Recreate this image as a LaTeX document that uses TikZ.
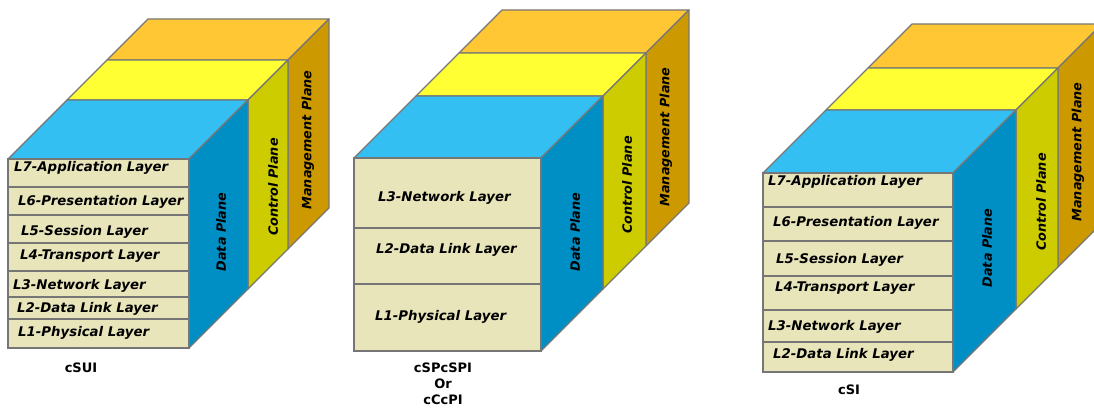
\documentclass[tikz,border=0pt]{standalone}
\usepackage{fontspec}
\setmainfont{DejaVu Sans}
\definecolor{mgtop}{HTML}{FFC733}
\definecolor{mgside}{HTML}{CC9900}
\definecolor{cttop}{HTML}{FFFF33}
\definecolor{ctside}{HTML}{CCCC00}
\definecolor{dttop}{HTML}{33BFF2}
\definecolor{dtside}{HTML}{008FC4}
\definecolor{beige}{HTML}{E8E5BB}
\definecolor{edge}{HTML}{767676}
\tikzset{
  face/.style={draw=edge, line width=1.2pt, line join=round},
  frontface/.style={draw=edge, line width=2pt, fill=beige},
  sep/.style={draw=edge, line width=1.6pt},
  layer/.style={anchor=west, inner sep=0pt, font=\fontsize{13.3}{15}\selectfont\bfseries\itshape},
  plane/.style={rotate=90, inner sep=0pt, font=\fontsize{12.8}{14}\selectfont\bfseries\itshape},
  caption/.style={inner sep=0pt, align=center, font=\fontsize{13}{16}\selectfont\bfseries}
}
% #1 X, #2 Y, #3 W, #4 H, #5 d1, #6 d2, #7 d3
\newcommand\drawcube[7]{%
  \path[face, fill=mgtop] (#1+#6,#2-#6) -- (#1+#3+#6,#2-#6) -- (#1+#3+#7,#2-#7) -- (#1+#7,#2-#7) -- cycle;
  \path[face, fill=mgside] (#1+#3+#6,#2-#6) -- (#1+#3+#7,#2-#7) -- (#1+#3+#7,#2+#4-#7) -- (#1+#3+#6,#2+#4-#6) -- cycle;
  \path[face, fill=cttop] (#1+#5,#2-#5) -- (#1+#3+#5,#2-#5) -- (#1+#3+#6,#2-#6) -- (#1+#6,#2-#6) -- cycle;
  \path[face, fill=ctside] (#1+#3+#5,#2-#5) -- (#1+#3+#6,#2-#6) -- (#1+#3+#6,#2+#4-#6) -- (#1+#3+#5,#2+#4-#5) -- cycle;
  \path[face, fill=dttop] (#1,#2) -- (#1+#3,#2) -- (#1+#3+#5,#2-#5) -- (#1+#5,#2-#5) -- cycle;
  \path[face, fill=dtside] (#1+#3,#2) -- (#1+#3+#5,#2-#5) -- (#1+#3+#5,#2+#4-#5) -- (#1+#3,#2+#4) -- cycle;
  \path[frontface] (#1,#2) rectangle (#1+#3,#2+#4);
}
\begin{document}
\begin{tikzpicture}[x=1pt,y=-1pt]
\useasboundingbox (0,0) rectangle (1094,409);
\clip (0,0) rectangle (1094,409);

% ---------- cube 1 : cSUI ----------
\drawcube{8}{159}{181}{189}{59}{99}{140}
\foreach \yy in {187,215,243,271,297,319} {\draw[sep] (8,\yy) -- (189,\yy);}
\node[layer] (a7) at (14,168) {L7-Application Layer};
\node[layer] (a6) at (18,202) {L6-Presentation Layer};
\node[layer] (a5) at (21,232) {L5-Session Layer};
\node[layer] (a4) at (20,256) {L4-Transport Layer};
\node[layer] (a3) at (13,286) {L3-Network Layer};
\node[layer] (a2) at (17,309) {L2-Data Link Layer};
\node[layer] (a1) at (18,333) {L1-Physical Layer};
\node[plane] (adp) at (221,232) {Data Plane};
\node[plane] (acp) at (273,187) {Control Plane};
\node[plane] (amp) at (308,140) {Management Plane};
\node[caption] (acap) at (81,368) {cSUI};

% ---------- cube 2 : cSPcSPI / cCcPI ----------
\drawcube{354}{158}{187}{193}{62}{105}{148}
\foreach \yy in {228,284} {\draw[sep] (354,\yy) -- (541,\yy);}
\node[layer] (b3) at (378,198) {L3-Network Layer};
\node[layer] (b2) at (376,250) {L2-Data Link Layer};
\node[layer] (b1) at (375,317) {L1-Physical Layer};
\node[plane] (bdp) at (575,232) {Data Plane};
\node[plane] (bcp) at (627,185) {Control Plane};
\node[plane] (bmp) at (666,137) {Management Plane};
\node[caption] (bcap) at (443,384) {cSPcSPI\\Or\\cCcPI};

% ---------- cube 3 : cSI ----------
\drawcube{763}{173}{190}{199}{63}{105}{149}
\foreach \yy in {207,241,276,310,342} {\draw[sep] (763,\yy) -- (953,\yy);}
\node[layer] (c7) at (768,182) {L7-Application Layer};
\node[layer] (c6) at (773,223) {L6-Presentation Layer};
\node[layer] (c5) at (776,260) {L5-Session Layer};
\node[layer] (c4) at (775,288) {L4-Transport Layer};
\node[layer] (c3) at (768,327) {L3-Network Layer};
\node[layer] (c2) at (773,355) {L2-Data Link Layer};
\node[plane] (cdp) at (987,248) {Data Plane};
\node[plane] (ccp) at (1041,202) {Control Plane};
\node[plane] (cmp) at (1078,152) {Management Plane};
\node[caption] (ccap) at (849,390) {cSI};
\end{tikzpicture}
\end{document}
